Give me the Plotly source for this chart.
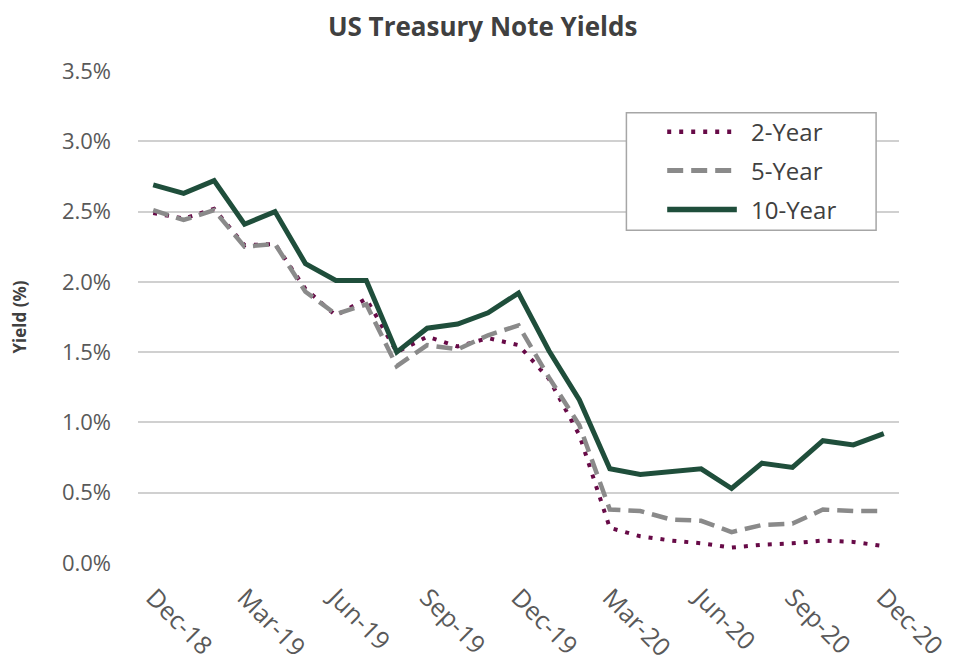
import plotly.graph_objects as go

months = ["Dec-18", "Jan-19", "Feb-19", "Mar-19", "Apr-19", "May-19", "Jun-19", "Jul-19",
          "Aug-19", "Sep-19", "Oct-19", "Nov-19", "Dec-19", "Jan-20", "Feb-20", "Mar-20",
          "Apr-20", "May-20", "Jun-20", "Jul-20", "Aug-20", "Sep-20", "Oct-20", "Nov-20", "Dec-20"]

yield_2y = [2.49, 2.45, 2.52, 2.26, 2.27, 1.95, 1.76, 1.88, 1.50, 1.61, 1.54, 1.60, 1.55,
            1.31, 0.91, 0.25, 0.19, 0.16, 0.14, 0.11, 0.13, 0.14, 0.16, 0.15, 0.12]
yield_5y = [2.51, 2.44, 2.51, 2.25, 2.27, 1.93, 1.77, 1.84, 1.40, 1.55, 1.52, 1.62, 1.69,
            1.32, 0.98, 0.38, 0.37, 0.31, 0.30, 0.22, 0.27, 0.28, 0.38, 0.37, 0.37]
yield_10y = [2.69, 2.63, 2.72, 2.41, 2.50, 2.13, 2.01, 2.01, 1.50, 1.67, 1.70, 1.78, 1.92,
             1.51, 1.16, 0.67, 0.63, 0.65, 0.67, 0.53, 0.71, 0.68, 0.87, 0.84, 0.92]

tick_labels = ["Dec-18", "Mar-19", "Jun-19", "Sep-19", "Dec-19", "Mar-20", "Jun-20", "Sep-20", "Dec-20"]

series_names = ["2-Year", "5-Year", "10-Year"]
series_colors = ["#670A47", "#8A8A8A", "#1F4E3B"]
series_dash = ["4px,8px", "16px,8px", "solid"]
series_width = [4, 4.5, 5]

FONT = "'Open Sans', sans-serif"

fig = go.Figure()
for name, ys, col, dash, w in zip(series_names, [yield_2y, yield_5y, yield_10y],
                                   series_colors, series_dash, series_width):
    fig.add_trace(go.Scatter(x=months, y=ys, name=name, mode="lines",
                             line=dict(color=col, width=w, dash=dash)))

# Legend drawn as a boxed key (Excel-style), in paper coordinates
fig.add_shape(type="rect", xref="paper", yref="paper", x0=0.6418, x1=0.9699, y0=0.6761, y1=0.915,
              line=dict(color="#A6A6A6", width=1.5), fillcolor="white", layer="above")
legend_y = [0.8765, 0.7976, 0.7186]
for name, col, dash, w, ly in zip(series_names, series_colors, series_dash, series_width, legend_y):
    fig.add_shape(type="line", xref="paper", yref="paper", x0=0.6954, x1=0.7869, y0=ly, y1=ly,
                  line=dict(color=col, width=w + 0.5, dash=dash), layer="above")
    fig.add_annotation(xref="paper", yref="paper", x=0.8026, y=ly, xanchor="left", yanchor="middle",
                       text=name, showarrow=False, font=dict(size=24, color="#404040", family=FONT))

fig.update_layout(
    width=955, height=667,
    paper_bgcolor="white", plot_bgcolor="white",
    margin=dict(l=130, r=60, t=63, b=110),
    font=dict(family=FONT, color="#595959", size=18),
    title=dict(text="<b>US Treasury Note Yields</b>", x=0.497, xanchor="center",
               y=0.972, yanchor="middle", font=dict(size=26, color="#404040", family=FONT)),
    showlegend=False,
)
fig.update_xaxes(type="category", range=[-0.5, 24.5], tickmode="array",
                 tickvals=tick_labels, ticktext=tick_labels, tickangle=45,
                 showgrid=False, showline=False, zeroline=False, ticks="",
                 ticklabelstandoff=14,
                 tickfont=dict(size=25, color="#595959"))
fig.update_yaxes(range=[0, 3.5], dtick=0.5, tickformat=".1f", ticksuffix="%",
                 showgrid=True, gridcolor="#D0D0D0", gridwidth=1.5,
                 zeroline=False, showline=False, ticks="", ticklabelstandoff=26,
                 tickfont=dict(size=22, color="#595959"),
                 title=dict(text="<b>Yield (%)</b>", font=dict(size=17, color="#404040"),
                            standoff=30))

fig.write_html("out.html")
